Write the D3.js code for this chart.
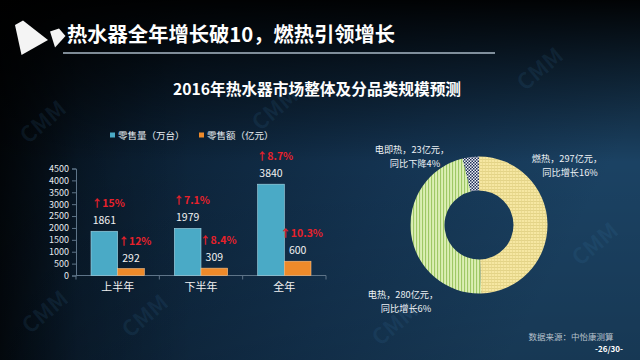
<!DOCTYPE html>
<html><head><meta charset="utf-8">
<script src="https://cdn.jsdelivr.net/npm/d3@7"></script>
<style>
html,body{margin:0;padding:0;background:#000;}
svg{display:block;}
text{font-family:"Noto Sans CJK SC","Noto Sans",sans-serif;}
</style></head>
<body>
<svg id="c" width="640" height="360"></svg>
<script>
// ---- data ----
const categories = ["上半年", "下半年", "全年"];
const volume = [1861, 1979, 3840];          // 零售量（万台）
const amount = [292, 309, 600];             // 零售额（亿元）
const volumeGrowth = ["↑15%", "↑7.1%", "↑8.7%"];
const amountGrowth = ["↑12%", "↑8.4%", "↑10.3%"];
const yTicks = [0, 500, 1000, 1500, 2000, 2500, 3000, 3500, 4000, 4500];
const seriesNames = ["零售量（万台）", "零售额（亿元）"];

const segNames = ["燃热", "电热", "电即热"];
const segValues = [297, 280, 23];
const segLine1 = ["燃热，297亿元，", "电热，280亿元，", "电即热，23亿元，"];
const segLine2 = ["同比增长16%", "同比增长6%", "同比下降4%"];

const title = "热水器全年增长破10，燃热引领增长";
const subtitle = "2016年热水器市场整体及分品类规模预测";
const source = "数据来源：中怡康测算";
const pageNo = "-26/30-";

// ---- drawing ----
const svg = d3.select("#c");
const defs = svg.append("defs");

// background gradients
const bg = defs.append("linearGradient").attr("id", "bg").attr("x1", 0).attr("y1", 0).attr("x2", 1).attr("y2", 0.3);
bg.append("stop").attr("offset", "0").attr("stop-color", "#03070b");
bg.append("stop").attr("offset", "0.3").attr("stop-color", "#0b2034");
bg.append("stop").attr("offset", "0.7").attr("stop-color", "#143452");
bg.append("stop").attr("offset", "1").attr("stop-color", "#1b4263");
const topShade = defs.append("linearGradient").attr("id", "topShade").attr("x1", 0).attr("y1", 0).attr("x2", 0).attr("y2", 1);
topShade.append("stop").attr("offset", "0").attr("stop-color", "#000").attr("stop-opacity", 0.95);
topShade.append("stop").attr("offset", "0.18").attr("stop-color", "#000").attr("stop-opacity", 0.55);
topShade.append("stop").attr("offset", "0.45").attr("stop-color", "#000").attr("stop-opacity", 0);
topShade.append("stop").attr("offset", "1").attr("stop-color", "#000").attr("stop-opacity", 0.15);
const leftShade = defs.append("linearGradient").attr("id", "leftShade").attr("x1", 0).attr("y1", 0).attr("x2", 1).attr("y2", 0);
leftShade.append("stop").attr("offset", "0").attr("stop-color", "#000").attr("stop-opacity", 0.7);
leftShade.append("stop").attr("offset", "0.12").attr("stop-color", "#000").attr("stop-opacity", 0.2);
leftShade.append("stop").attr("offset", "0.3").attr("stop-color", "#000").attr("stop-opacity", 0);

svg.append("rect").attr("width", 640).attr("height", 360).attr("fill", "url(#bg)");
svg.append("rect").attr("width", 640).attr("height", 360).attr("fill", "url(#leftShade)");
svg.append("rect").attr("width", 640).attr("height", 360).attr("fill", "url(#topShade)");

// faint watermarks placed in empty areas
const wm = [[48, 128], [150, 322], [280, 115], [545, 75], [600, 250], [400, 330], [50, 318]];
svg.append("g").selectAll("text").data(wm).join("text")
  .attr("transform", d => `translate(${d[0]},${d[1]}) rotate(-40)`)
  .attr("text-anchor", "middle").attr("font-size", 22).attr("font-weight", "bold")
  .attr("font-family", "Liberation Sans, Arial, sans-serif")
  .attr("fill", "#3f7fb0").attr("fill-opacity", 0.13).text("CMM");

// logo
svg.append("polygon").attr("points", "15,25 23,20.5 48,40 21.5,55").attr("fill", "#f4f4f4");
svg.append("polygon").attr("points", "50,31.5 59,28.5 65.5,36 55,47.5").attr("fill", "#f4f4f4");

// title
svg.append("text").attr("x", 67).attr("y", 42).attr("font-size", 20.3).attr("font-weight", "bold")
  .attr("fill", "#ffffff").text(title);
svg.append("line").attr("x1", 63).attr("x2", 495).attr("y1", 53).attr("y2", 53)
  .attr("stroke", "#a9b8c6").attr("stroke-width", 1.5);

// subtitle
svg.append("text").attr("x", 317).attr("y", 95).attr("text-anchor", "middle")
  .attr("font-size", 15.7).attr("font-weight", "bold").attr("fill", "#ffffff").text(subtitle);

// ---- bar chart ----
const blue = "#4aaac6", orange = "#ee8a2a", red = "#e8212b";
const x0 = d3.scaleBand().domain(categories).range([76, 326]).paddingInner(0.36).paddingOuter(0.18);
const x1 = d3.scaleBand().domain([0, 1]).range([0, x0.bandwidth()]);
const y = d3.scaleLinear().domain([0, 4500]).range([275.5, 168.5]);

const yAxis = d3.axisLeft(y).tickValues(yTicks).tickSize(4).tickPadding(3).tickFormat(d3.format("d"));
const gy = svg.append("g").attr("transform", "translate(76,0)").call(yAxis);
gy.selectAll("text").attr("fill", "#e6ebf0").attr("font-size", 9)
  .attr("font-family", "Liberation Sans, Arial, sans-serif");
gy.selectAll("line").attr("stroke", "#5e7488");
gy.select(".domain").attr("stroke", "#5e7488");

// x axis baseline with ticks at band boundaries
svg.append("line").attr("x1", 76).attr("x2", 326).attr("y1", 275.5).attr("y2", 275.5)
  .attr("stroke", "#5e7488");
svg.append("g").selectAll("line").data(categories.map(c => x0(c) - x0.step() * x0.paddingInner() / 2).concat([326]))
  .join("line")
  .attr("x1", d => Math.max(76, d)).attr("x2", d => Math.max(76, d)).attr("y1", 275.5).attr("y2", 279.5).attr("stroke", "#5e7488");
svg.append("g").selectAll("text").data(categories).join("text")
  .attr("x", d => x0(d) + x0.bandwidth() / 2).attr("y", 291)
  .attr("text-anchor", "middle").attr("font-size", 11).attr("fill", "#f0f0f0").text(d => d);

const series = [volume, amount];
const colors = [blue, orange];
const growth = [volumeGrowth, amountGrowth];
series.forEach((vals, s) => {
  const g = svg.append("g");
  g.selectAll("rect").data(vals).join("rect")
    .attr("x", (d, i) => x0(categories[i]) + x1(s))
    .attr("width", x1.bandwidth())
    .attr("y", d => y(d)).attr("height", d => y(0) - y(d))
    .attr("fill", colors[s]).attr("stroke", s === 0 ? "#a8d8e6" : "#f6c08a").attr("stroke-width", 0.6);
  g.selectAll("text.v").data(vals).join("text").attr("class", "v")
    .attr("x", (d, i) => x0(categories[i]) + x1(s) + x1.bandwidth() / 2)
    .attr("y", d => y(d) - 7).attr("text-anchor", "middle")
    .attr("font-size", 10.5).attr("fill", "#f2f2f2")
    .attr("font-family", "Liberation Sans, Arial, sans-serif").text(d => d);
  g.selectAll("text.g").data(vals).join("text").attr("class", "g")
    .attr("x", (d, i) => x0(categories[i]) + x1(s) + x1.bandwidth() / 2 + 4)
    .attr("y", d => y(d) - 24).attr("text-anchor", "middle")
    .attr("font-size", 10.5).attr("font-weight", "bold").attr("fill", red)
    .attr("font-family", "Liberation Sans, Arial, sans-serif").text((d, i) => growth[s][i]);
});

// legend
const legX = [110, 199];
seriesNames.forEach((n, i) => {
  svg.append("rect").attr("x", legX[i]).attr("y", 132.5).attr("width", 5).attr("height", 5).attr("fill", colors[i]);
  svg.append("text").attr("x", legX[i] + 8).attr("y", 138.5).attr("font-size", 9.5).attr("fill", "#e8edf2").text(n);
});

// ---- donut ----
const pY = defs.append("pattern").attr("id", "pYellow").attr("patternUnits", "userSpaceOnUse").attr("width", 3).attr("height", 3);
pY.append("rect").attr("width", 3).attr("height", 3).attr("fill", "#f6e7a2");
pY.append("rect").attr("width", 3).attr("height", 0.7).attr("fill", "#dccb7c");
pY.append("rect").attr("width", 0.7).attr("height", 3).attr("fill", "#e6d68a");
const pG = defs.append("pattern").attr("id", "pGreen").attr("patternUnits", "userSpaceOnUse").attr("width", 3).attr("height", 3);
pG.append("rect").attr("width", 3).attr("height", 3).attr("fill", "#dcefb4");
pG.append("rect").attr("width", 1.1).attr("height", 3).attr("fill", "#9fc866");
const pC = defs.append("pattern").attr("id", "pCheck").attr("patternUnits", "userSpaceOnUse").attr("width", 3).attr("height", 3);
pC.append("rect").attr("width", 3).attr("height", 3).attr("fill", "#eef2f6");
pC.append("rect").attr("width", 1.5).attr("height", 1.5).attr("fill", "#1e2c56");
pC.append("rect").attr("x", 1.5).attr("y", 1.5).attr("width", 1.5).attr("height", 1.5).attr("fill", "#1e2c56");
const fills = ["url(#pYellow)", "url(#pGreen)", "url(#pCheck)"];

const cx = 479, cy = 225;
const pie = d3.pie().sort(null).startAngle(0).endAngle(2 * Math.PI);
const arc = d3.arc().innerRadius(34.5).outerRadius(68.5);
const dg = svg.append("g").attr("transform", `translate(${cx},${cy})`);
dg.selectAll("path").data(pie(segValues)).join("path")
  .attr("d", arc).attr("fill", (d, i) => fills[i]);

// donut labels
const labPos = [
  {x: 567, y1: 162, y2: 175.5},
  {x: 403, y1: 298, y2: 311.5},
  {x: 412, y1: 153, y2: 166.5}
];
segValues.forEach((v, i) => {
  svg.append("text").attr("x", labPos[i].x).attr("y", labPos[i].y1).attr("text-anchor", "middle")
    .attr("font-size", 9.2).attr("fill", "#eef2f6").text(segLine1[i]);
  svg.append("text").attr("x", labPos[i].x + 3).attr("y", labPos[i].y2).attr("text-anchor", "middle")
    .attr("font-size", 9.2).attr("fill", "#eef2f6").text(segLine2[i]);
});

// footer
svg.append("text").attr("x", 571).attr("y", 340).attr("text-anchor", "middle").attr("font-size", 8.5)
  .attr("fill", "#b8c2cc").attr("font-family", "Noto Serif CJK SC, Noto Sans CJK SC, serif").text(source);
svg.append("text").attr("x", 609).attr("y", 352).attr("text-anchor", "middle").attr("font-size", 8)
  .attr("font-weight", "bold").attr("fill", "#ffffff")
  .attr("font-family", "Liberation Sans, Arial, sans-serif").text(pageNo);
</script>
</body></html>
